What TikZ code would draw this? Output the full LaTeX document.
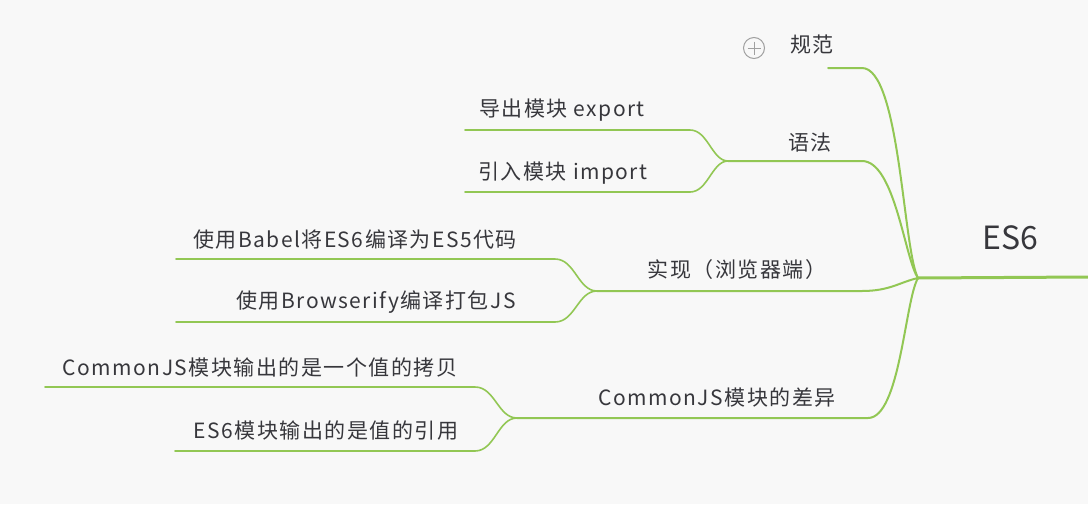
\documentclass[tikz,border=0pt]{standalone}
\usepackage{fontspec}
\setmainfont{Noto Sans CJK SC}[LetterSpace=7]
\newfontfamily\rootfont{Noto Sans CJK SC}
\definecolor{bg}{RGB}{248,248,248}
\definecolor{ln}{RGB}{146,199,84}
\definecolor{tx}{RGB}{55,55,60}
\definecolor{ic}{RGB}{160,160,160}
\begin{document}
\begin{tikzpicture}[x=1pt,y=-1pt,
  lbl/.style={text=tx,font=\fontsize{21}{23}\selectfont,inner sep=0pt,anchor=center},
  br/.style={draw=ln,line width=1.6pt,line cap=round},
  mainbr/.style={draw=ln,line width=2pt,line cap=round}]
\fill[bg] (0,0) rectangle (1088,504);
\useasboundingbox (0,0) rectangle (1088,504);
% root
\node[text=tx,font=\rootfont\fontsize{32}{34}\selectfont,inner sep=0pt] (es6) at (1010,238) {ES6};
\coordinate (r) at (918,278);
\coordinate (rE) at (1088,277);
\draw[draw=ln,line width=3pt] (r) -- (rE);
% 规范
\node[lbl] (gf) at (812,45) {规范};
\node[draw=ic,line width=1pt,circle,minimum size=21pt,inner sep=0pt] (plus) at (754,48) {};
\draw[ic,line width=1pt] (plus.center) ++(-6.5,0) -- ++(13,0) (plus.center) ++(0,-6.5) -- ++(0,13);
\coordinate (gfL) at (828,68); \coordinate (gfR) at (862,68);
\draw[mainbr] (r) .. controls (903,250) and (900,68) .. (gfR) -- (gfL);
% 语法
\node[lbl] (yf) at (810,143) {语法};
\coordinate (yfL) at (728,161); \coordinate (yfR) at (862,161);
\draw[mainbr] (r) .. controls (905,260) and (895,161) .. (yfR) -- (yfL);
\node[lbl] (dc) at (562,110) {导出模块 export};
\node[lbl] (yr) at (563,173) {引入模块 import};
\coordinate (dcL) at (465,130); \coordinate (dcR) at (690,130);
\coordinate (yrL) at (465,192); \coordinate (yrR) at (690,192);
\draw[br] (yfL) .. controls (712,161) and (708,130) .. (dcR) -- (dcL);
\draw[br] (yfL) .. controls (712,161) and (708,192) .. (yrR) -- (yrL);
% 实现
\node[lbl] (sx) at (737,270) {实现（浏览器端）};
\coordinate (sxL) at (597,291); \coordinate (sxR) at (862,291);
\draw[mainbr] (r) .. controls (900,282) and (890,291) .. (sxR) -- (sxL);
\node[lbl] (ba) at (355,240) {使用Babel将ES6编译为ES5代码};
\node[lbl] (bw) at (376,302) {使用Browserify编译打包JS};
\coordinate (baL) at (176,259); \coordinate (baR) at (555,259);
\coordinate (bwL) at (176,322); \coordinate (bwR) at (555,322);
\draw[br] (sxL) .. controls (578,291) and (575,259) .. (baR) -- (baL);
\draw[br] (sxL) .. controls (578,291) and (575,322) .. (bwR) -- (bwL);
% CommonJS
\node[lbl] (cj) at (717,398) {CommonJS模块的差异};
\coordinate (cjL) at (517,418); \coordinate (cjR) at (868,418);
\draw[mainbr] (r) .. controls (905,300) and (900,418) .. (cjR) -- (cjL);
\node[lbl] (cv) at (260,367) {CommonJS模块输出的是一个值的拷贝};
\node[lbl] (ev) at (326,431) {ES6模块输出的是值的引用};
\coordinate (cvL) at (45,387); \coordinate (cvR) at (475,387);
\coordinate (evL) at (175,451); \coordinate (evR) at (475,451);
\draw[br] (cjL) .. controls (498,418) and (495,387) .. (cvR) -- (cvL);
\draw[br] (cjL) .. controls (498,418) and (495,451) .. (evR) -- (evL);
\end{tikzpicture}
\end{document}
